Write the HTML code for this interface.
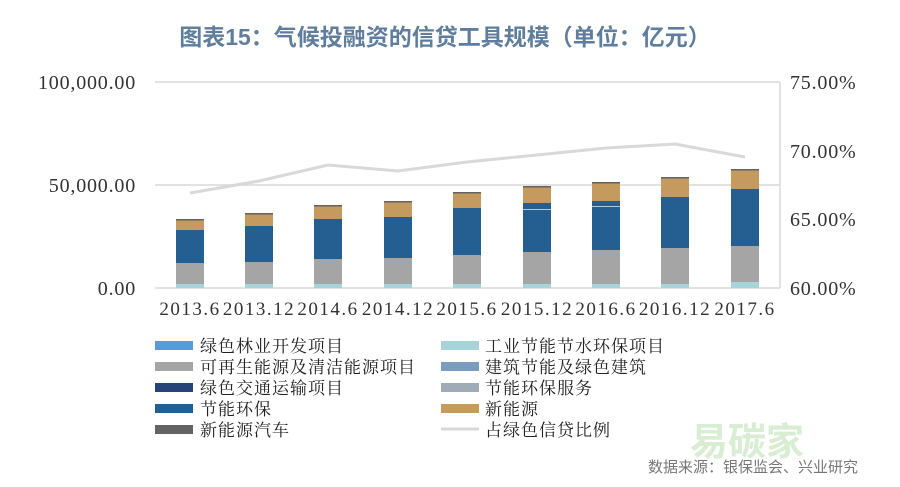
<!DOCTYPE html>
<html><head><meta charset="utf-8"><style>
html,body{margin:0;padding:0;background:#fff;}
svg{display:block;}
.ax{font-family:"Liberation Serif",serif;font-size:20px;fill:#333;letter-spacing:0.8px;}
.lg{font-family:"Liberation Serif","Noto Serif CJK SC",serif;font-size:17px;fill:#222;letter-spacing:1px;}
</style></head><body>
<svg width="900" height="487" viewBox="0 0 900 487" xmlns="http://www.w3.org/2000/svg">
<text x="445" y="45" text-anchor="middle" style="font-family:'Liberation Sans','Noto Sans CJK SC',sans-serif;font-size:23px;font-weight:bold;fill:#5f7d9c">图表15：气候投融资的信贷工具规模（单位：亿元）</text>
<g stroke="#d9d9d9" stroke-width="1.5">
<line x1="155" y1="82" x2="780" y2="82"/><line x1="155" y1="185" x2="780" y2="185"/><line x1="155" y1="288" x2="780" y2="288"/>
<line x1="780" y1="82" x2="780" y2="288"/>
</g>
<g class="ax" text-anchor="end">
<text x="136" y="89">100,000.00</text><text x="136" y="192">50,000.00</text><text x="136" y="295">0.00</text>
</g>
<g class="ax">
<text x="790" y="89">75.00%</text><text x="790" y="158">70.00%</text><text x="790" y="226">65.00%</text><text x="790" y="295">60.00%</text>
</g>
<g class="ax" text-anchor="middle" style="font-size:19px;letter-spacing:1.5px">
<text x="190" y="315">2013.6</text><text x="259" y="315">2013.12</text><text x="328" y="315">2014.6</text><text x="398" y="315">2014.12</text><text x="467" y="315">2015.6</text><text x="537" y="315">2015.12</text><text x="606" y="315">2016.6</text><text x="675" y="315">2016.12</text><text x="745" y="315">2017.6</text>
</g>
<g>
<rect x="176" y="220" width="28" height="10" fill="#c49a5e"/><rect x="176" y="230" width="28" height="33" fill="#255e91"/><rect x="176" y="263" width="28" height="21" fill="#a5a5a5"/><rect x="176" y="284" width="28" height="4" fill="#a6d4d8"/>
<rect x="245" y="214" width="28" height="12" fill="#c49a5e"/><rect x="245" y="226" width="28" height="36" fill="#255e91"/><rect x="245" y="262" width="28" height="22" fill="#a5a5a5"/><rect x="245" y="284" width="28" height="4" fill="#a6d4d8"/>
<rect x="314" y="206" width="28" height="13" fill="#c49a5e"/><rect x="314" y="219" width="28" height="40" fill="#255e91"/><rect x="314" y="259" width="28" height="25" fill="#a5a5a5"/><rect x="314" y="284" width="28" height="4" fill="#a6d4d8"/>
<rect x="384" y="202" width="28" height="15" fill="#c49a5e"/><rect x="384" y="217" width="28" height="41" fill="#255e91"/><rect x="384" y="258" width="28" height="26" fill="#a5a5a5"/><rect x="384" y="284" width="28" height="4" fill="#a6d4d8"/>
<rect x="453" y="193" width="28" height="15" fill="#c49a5e"/><rect x="453" y="208" width="28" height="47" fill="#255e91"/><rect x="453" y="255" width="28" height="29" fill="#a5a5a5"/><rect x="453" y="284" width="28" height="4" fill="#a6d4d8"/>
<rect x="523" y="187" width="28" height="16" fill="#c49a5e"/><rect x="523" y="203" width="28" height="49" fill="#255e91"/><rect x="523" y="252" width="28" height="32" fill="#a5a5a5"/><rect x="523" y="284" width="28" height="4" fill="#a6d4d8"/>
<rect x="592" y="183" width="28" height="18" fill="#c49a5e"/><rect x="592" y="201" width="28" height="49" fill="#255e91"/><rect x="592" y="250" width="28" height="34" fill="#a5a5a5"/><rect x="592" y="284" width="28" height="4" fill="#a6d4d8"/>
<rect x="661" y="178" width="28" height="19" fill="#c49a5e"/><rect x="661" y="197" width="28" height="51" fill="#255e91"/><rect x="661" y="248" width="28" height="36" fill="#a5a5a5"/><rect x="661" y="284" width="28" height="4" fill="#a6d4d8"/>
<rect x="731" y="170" width="28" height="19" fill="#c49a5e"/><rect x="731" y="189" width="28" height="57" fill="#255e91"/><rect x="731" y="246" width="28" height="36" fill="#a5a5a5"/><rect x="731" y="282" width="28" height="6" fill="#a6d4d8"/>
<g fill="#636363"><rect x="176" y="219" width="28" height="1.5"/><rect x="245" y="213" width="28" height="1.5"/><rect x="314" y="205" width="28" height="1.5"/><rect x="384" y="201" width="28" height="1.5"/><rect x="453" y="192" width="28" height="1.5"/><rect x="523" y="186" width="28" height="1.5"/><rect x="592" y="182" width="28" height="1.5"/><rect x="661" y="177" width="28" height="1.5"/><rect x="731" y="169" width="28" height="1.5"/></g>
<g fill="#a8cbe8"><rect x="523" y="209" width="28" height="1"/><rect x="592" y="206" width="28" height="1"/></g>
</g>
<polyline fill="none" stroke="#d9d9d9" stroke-width="3" points="190,193 259,181 328,165 398,171 467,162 537,155 606,148 675,144 745,157"/>
<g>
<rect x="155" y="341" width="38" height="9" fill="#5b9bd5"/>
<rect x="155" y="362" width="38" height="9" fill="#a5a5a5"/>
<rect x="155" y="383" width="38" height="9" fill="#264478"/>
<rect x="155" y="404" width="38" height="9" fill="#255e91"/>
<rect x="155" y="425" width="38" height="9" fill="#636363"/>
<rect x="441" y="341" width="38" height="9" fill="#a6d4d8"/>
<rect x="441" y="362" width="38" height="9" fill="#7a9cbf"/>
<rect x="441" y="383" width="38" height="9" fill="#9fabb7"/>
<rect x="441" y="404" width="38" height="9" fill="#c49a5e"/>
<line x1="441" y1="429" x2="479" y2="429" stroke="#d9d9d9" stroke-width="3"/>
</g>
<g class="lg">
<text x="200" y="352">绿色林业开发项目</text>
<text x="200" y="373">可再生能源及清洁能源项目</text>
<text x="200" y="394">绿色交通运输项目</text>
<text x="200" y="415">节能环保</text>
<text x="200" y="436">新能源汽车</text>
<text x="485" y="352">工业节能节水环保项目</text>
<text x="485" y="373">建筑节能及绿色建筑</text>
<text x="485" y="394">节能环保服务</text>
<text x="485" y="415">新能源</text>
<text x="485" y="436">占绿色信贷比例</text>
</g>
<text x="690" y="455" style="font-family:'Liberation Sans','Noto Sans CJK SC',sans-serif;font-size:38px;font-weight:bold;fill:#c8e6c0;opacity:0.7">易碳家</text>
<text x="858" y="472" text-anchor="end" style="font-family:'Liberation Sans','Noto Sans CJK SC',sans-serif;font-size:15px;fill:#777">数据来源：银保监会、兴业研究</text>
</svg>
</body></html>
